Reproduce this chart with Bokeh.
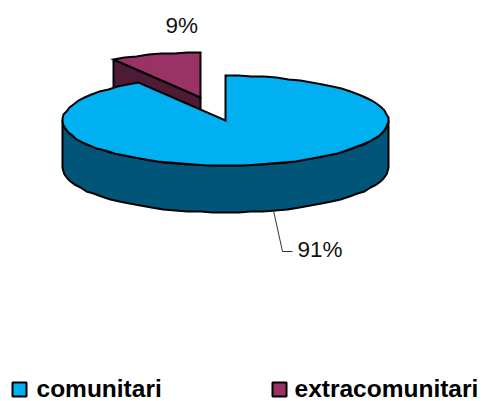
import numpy as np
from bokeh.embed import file_html
from bokeh.models import Range1d
from bokeh.plotting import figure
from bokeh.resources import INLINE
from bokeh.core.properties import value

categories = ["comunitari", "extracomunitari"]
shares = [91, 9]
labels = ["91%", "9%"]
top_colors = ["#00B0F0", "#993366"]
side_colors = ["#005578", "#4D1B36"]

W, H = 491, 401
p = figure(width=W, height=H, output_backend="svg", toolbar_location=None,
           x_range=Range1d(0, W), y_range=Range1d(H, 0),
           min_border=0, outline_line_color=None, background_fill_color="white")
p.axis.visible = False
p.grid.visible = False

CX, CY, RX, RY, DEPTH = 225, 120, 163, 45, 47
EX, EY = -25, -23   # explosion offset of the small slice
FONT = value("Liberation Sans")
OUT = "#000000"
STEP = np.radians(4.5)

cut = 2 * np.pi * shares[1] / sum(shares)


def rim(a0, a1, cx, cy):
    # coarse, pixel-snapped outline: the reference's edge is visibly stepped
    n = max(2, int(abs(a1 - a0) / STEP) + 1)
    a = np.linspace(a0, a1, n)
    return np.round(cx + RX * np.sin(a)), np.round(cy - RY * np.cos(a))


# small slice (exploded): wall along the cut, then its top
sx, sy = CX + EX, CY + EY
ax, ay = rim(-cut, 0, sx, sy)
p.patch([ax[0], sx, sx, ax[0]], [ay[0], sy, sy + DEPTH, ay[0] + DEPTH],
        fill_color=side_colors[1], line_color=OUT, line_width=2)
p.patch(list(ax) + [sx], list(ay) + [sy],
        fill_color=top_colors[1], line_color=OUT, line_width=2, line_join="miter")

# big slice: outer side wall, then its top
bx, by = rim(np.pi / 2, 3 * np.pi / 2, CX, CY)
p.patch(list(bx) + list(bx[::-1]), list(by) + list(by[::-1] + DEPTH),
        fill_color=side_colors[0], line_color=OUT, line_width=2)
tx, ty = rim(0, 2 * np.pi - cut, CX, CY)
p.patch(list(tx) + [CX], list(ty) + [CY],
        fill_color=top_colors[0], line_color=OUT, line_width=2, line_join="miter")

# leader line and data labels
p.line([273, 282, 292], [210, 251, 251], line_color="#333333", line_width=1)
p.text([297], [249], text=[labels[0]], text_font=FONT, text_font_size="22.5px",
       text_color="#111111", text_baseline="middle")
p.text([165], [25], text=[labels[1]], text_font=FONT, text_font_size="22.5px",
       text_color="#111111", text_baseline="middle")

# legend
lx = [12, 272]
tx_l = [36, 294]
p.quad(left=lx, right=[v + 14 for v in lx], top=[382] * 2, bottom=[396] * 2,
       fill_color=top_colors, line_color=OUT, line_width=2)
p.text(tx_l, [388] * 2, text=categories, text_font=FONT, text_font_size="24.5px",
       text_font_style="bold", text_color="#000000", text_baseline="middle")

open("out.html", "w").write(file_html(p, INLINE))
